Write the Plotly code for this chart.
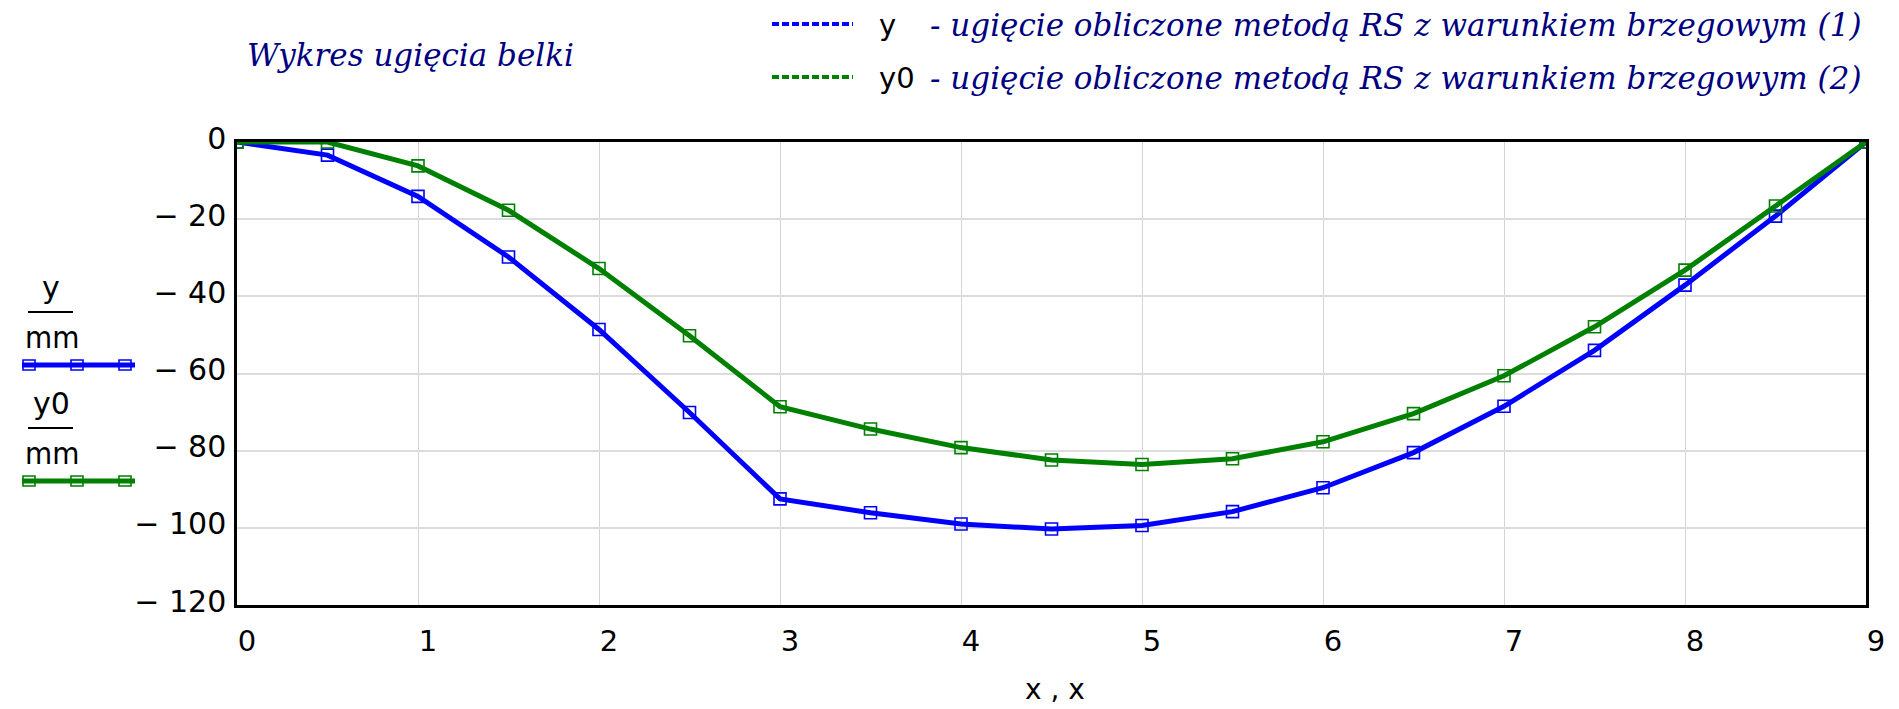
import plotly.graph_objects as go

# ---- data ----
x_vals = [0, 0.5, 1, 1.5, 2, 2.5, 3, 3.5, 4, 4.5, 5, 5.5, 6, 6.5, 7, 7.5, 8, 8.5, 9]
y_mm = [0, -3.4, -14.1, -29.8, -48.6, -70.1, -92.5, -96.1, -99.0, -100.3,
        -99.4, -95.8, -89.6, -80.5, -68.5, -54.0, -37.1, -19.2, 0]
y0_mm = [0, 0, -6.2, -17.7, -32.8, -50.2, -68.6, -74.4, -79.2, -82.4,
         -83.6, -82.1, -77.7, -70.4, -60.6, -47.9, -33.2, -16.6, 0]

x_ticks = [0, 1, 2, 3, 4, 5, 6, 7, 8, 9]
y_ticks = [0, -20, -40, -60, -80, -100, -120]
y_ticktext = ["0" if v == 0 else "\u2212 " + str(abs(v)) for v in y_ticks]

title_text = "Wykres ugięcia belki"
legend_desc = ["- ugięcie obliczone metodą RS z warunkiem brzegowym (1)",
               "- ugięcie obliczone metodą RS z warunkiem brzegowym (2)"]
legend_names = ["y", "y0"]
colors = ["#0000FF", "#008000"]

W, H = 1899, 709
L, R, T, B = 237, 1866, 142, 605


def px(x):
    return (x - L) / (R - L)


def py(y):
    return (B - y) / (B - T)


SANS = "DejaVu Sans, Liberation Sans, Arial, sans-serif"
NARROW = "DejaVu Sans Condensed, Liberation Sans Narrow, Liberation Sans, Arial, sans-serif"
SERIF = "DejaVu Serif, Georgia, serif"
NAVY = "#000080"

fig = go.Figure()
for ys, c, n in [(y_mm, colors[0], "y"), (y0_mm, colors[1], "y0")]:
    fig.add_trace(go.Scatter(
        x=x_vals, y=ys, mode="lines+markers", name=n,
        line=dict(color=c, width=5),
        marker=dict(symbol="square-open", size=12, color=c, line=dict(width=1.6, color=c)),
        showlegend=False,
    ))

annotations = []
shapes = []

# title
annotations.append(dict(text=title_text, x=px(245), y=py(55), xref="paper", yref="paper",
                        xanchor="left", yanchor="middle", showarrow=False,
                        font=dict(family=SERIF, size=31, color=NAVY, style="italic")))

# top legend
for i, yy in enumerate([24, 77]):
    shapes.append(dict(type="line", xref="paper", yref="paper",
                       x0=px(772), x1=px(853), y0=py(yy), y1=py(yy),
                       line=dict(color=colors[i], width=4, dash="7px,3px")))
    annotations.append(dict(text=legend_names[i], x=px(877), y=py(yy + 1), xref="paper", yref="paper",
                            xanchor="left", yanchor="middle", showarrow=False,
                            font=dict(family=SANS, size=29, color="black")))
    annotations.append(dict(text=legend_desc[i], x=px(928), y=py(yy + 1), xref="paper", yref="paper",
                            xanchor="left", yanchor="middle", showarrow=False,
                            font=dict(family=SERIF, size=31, color=NAVY, style="italic")))

# left-side axis legend (fractions + samples)
for i, (ny, bary, mmy, liney) in enumerate([(287, 312, 338, 365), (403, 428, 454, 481)]):
    annotations.append(dict(text=legend_names[i], x=px(51), y=py(ny), xref="paper", yref="paper",
                            xanchor="center", yanchor="middle", showarrow=False,
                            font=dict(family=SANS, size=30, color="black")))
    shapes.append(dict(type="line", xref="paper", yref="paper",
                       x0=px(28), x1=px(73), y0=py(bary), y1=py(bary),
                       line=dict(color="black", width=2)))
    annotations.append(dict(text="mm", x=px(52), y=py(mmy - 1), xref="paper", yref="paper",
                            xanchor="center", yanchor="middle", showarrow=False,
                            font=dict(family=NARROW, size=31, color="black")))
    shapes.append(dict(type="line", xref="paper", yref="paper",
                       x0=px(22), x1=px(135), y0=py(liney), y1=py(liney),
                       line=dict(color=colors[i], width=5)))
    for mx in (29, 77, 125):
        shapes.append(dict(type="rect", xref="paper", yref="paper",
                           x0=px(mx - 6), x1=px(mx + 6), y0=py(liney - 5), y1=py(liney + 5),
                           line=dict(color=colors[i], width=1.6), fillcolor="rgba(0,0,0,0)"))

# x-axis title
annotations.append(dict(text="x , x", x=px(1055), y=py(708), xref="paper", yref="paper",
                        xanchor="center", yanchor="bottom", showarrow=False,
                        font=dict(family=SANS, size=28, color="black")))

fig.update_layout(
    width=W, height=H,
    margin=dict(l=L, r=W - R, t=T, b=H - B, pad=0),
    paper_bgcolor="white", plot_bgcolor="white",
    annotations=annotations, shapes=shapes,
    showlegend=False,
)
fig.update_xaxes(range=[0, 9], tickvals=x_ticks, ticktext=[str(v) for v in x_ticks],
                 showgrid=True, gridcolor="#d4d4d4", gridwidth=1,
                 showline=True, mirror=True, linecolor="black", linewidth=2.5,
                 zeroline=False, ticks="", ticklabelshift=10, ticklabelstandoff=8,
                 tickfont=dict(family=SANS, size=29, color="black"))
fig.update_yaxes(range=[-120, 0], tickvals=y_ticks, ticktext=y_ticktext,
                 showgrid=True, gridcolor="#dcdcdc", gridwidth=2,
                 showline=True, mirror=True, linecolor="black", linewidth=2.5,
                 zeroline=False, ticks="", ticklabelshift=-4, ticklabelstandoff=2,
                 tickfont=dict(family=SANS, size=30, color="black"))

fig.write_html("out.html", config={"displayModeBar": False},
               post_script="document.body.style.margin='0px';document.body.style.overflow='hidden';")
